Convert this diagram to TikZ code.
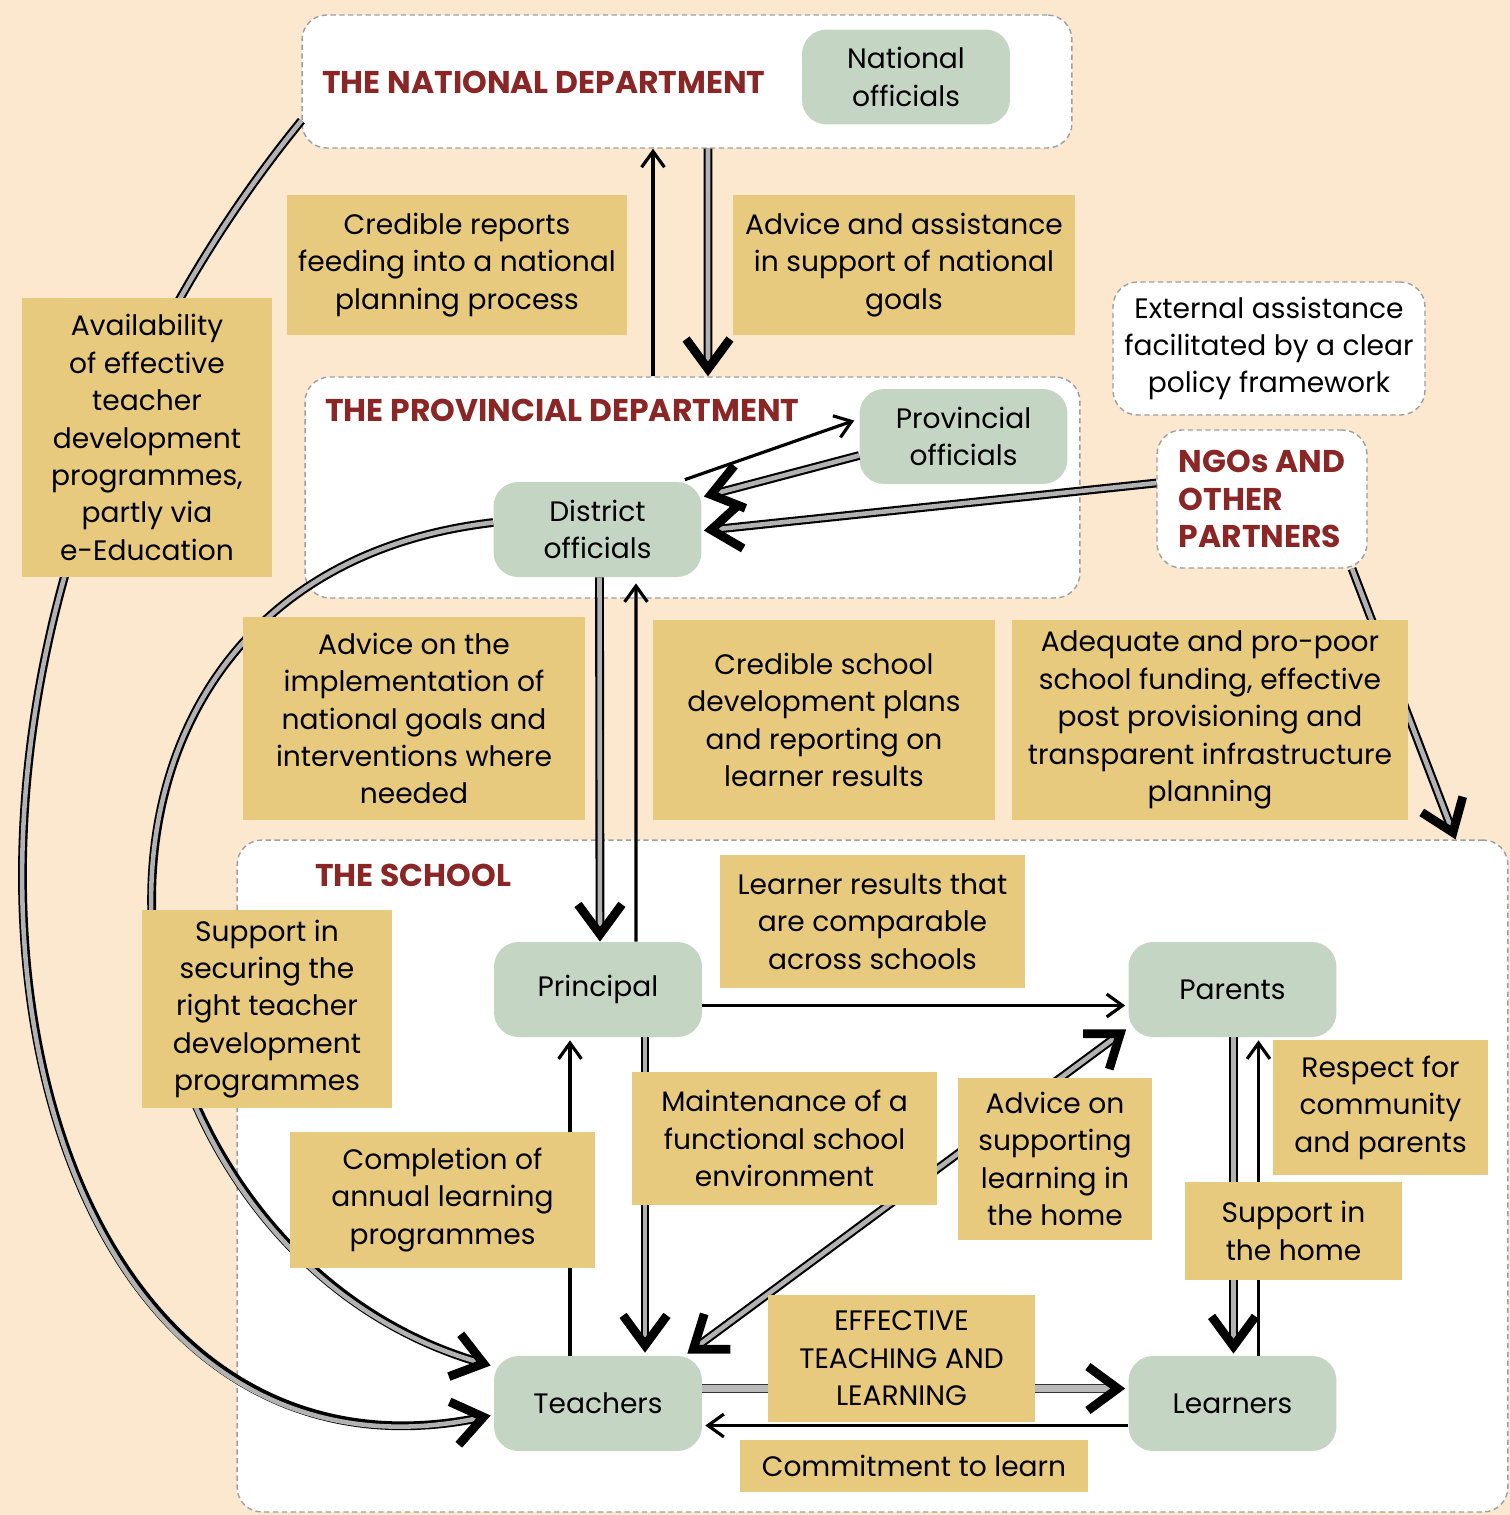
\documentclass[tikz,border=0pt]{standalone}
\usepackage{fontspec}
\setmainfont{Poppins}
\usetikzlibrary{arrows.meta,calc}
\definecolor{bgpeach}{RGB}{252,232,207}
\definecolor{boxyellow}{RGB}{231,202,126}
\definecolor{offgreen}{RGB}{197,213,196}
\definecolor{titlered}{RGB}{138,38,38}
\begin{document}
\begin{tikzpicture}[x=0.02cm, y=-0.02cm,
  every node/.style={font=\fontsize{16}{21.3}\selectfont, align=center, inner sep=0pt},
  panel/.style={draw=gray!75, dash pattern=on 3pt off 2pt, line width=0.8pt, fill=white, rounded corners=14pt},
  officer/.style={fill=offgreen, rounded corners=14pt, minimum width=4.16cm, minimum height=1.9cm},
  yellowbox/.style 2 args={fill=boxyellow, minimum width=#1, minimum height=#2},
  heading/.style={text=titlered, font=\fontsize{17.9}{21.3}\selectfont\bfseries},
  thinarrow/.style={line width=1.8pt, >={Straight Barb[length=9pt, width=13pt, line width=1.8pt]}, ->},
  bigarrow/.style={draw=gray!60, line width=2.6pt, >={Straight Barb[color=black, length=17pt, width=25pt, line width=5pt]}, ->,
    preaction={draw=black, line width=5pt, shorten >=4pt, -}},
  bigboth/.style={draw=gray!60, line width=2.6pt, >={Straight Barb[color=black, length=17pt, width=25pt, line width=5pt]}, <->,
    preaction={draw=black, line width=5pt, shorten >=4pt, shorten <=4pt, -}},
  widearrow/.style={draw=gray!55, line width=4pt, >={Straight Barb[color=black, length=17pt, width=25pt, line width=5pt]}, ->,
    preaction={draw=black!80, line width=5.4pt, shorten >=4pt, -}}]
\path[fill=bgpeach, use as bounding box] (0,0) rectangle (1510,1515);

\path (687,81.5) node[panel, minimum width=15.4cm, minimum height=2.66cm] (nat) {};
\path (692.5,487.5) node[panel, minimum width=15.5cm, minimum height=4.42cm] (prov) {};
\path (872.5,1176) node[panel, minimum width=25.42cm, minimum height=13.44cm] (school) {};
\path (1269,348.5) node[panel, minimum width=6.24cm, minimum height=2.66cm] (ext) {External assistance\\facilitated by a clear\\policy framework};
\path (1262,499) node[panel, heading, align=left, minimum width=4.2cm, minimum height=2.76cm] (ngo) {NGOs AND\\OTHER\\PARTNERS};

\path (906,77) node[officer] (natoff) {National\\officials};
\path (963.5,436.5) node[officer] (provoff) {Provincial\\officials};
\path (597.5,529.5) node[officer] (dis) {District\\officials};
\path (598,989.5) node[officer] (prin) {Principal};
\path (1232.5,989.5) node[officer] (par) {Parents};
\path (598,1403.5) node[officer] (tea) {Teachers};
\path (1232.5,1403.5) node[officer] (lea) {Learners};

\path (322,82) node[heading, anchor=west] (natt) {THE NATIONAL DEPARTMENT};
\path (325,410) node[heading, anchor=west] (provt) {THE PROVINCIAL DEPARTMENT};
\path (315,875) node[heading, anchor=west] (schoolt) {THE SCHOOL};

\draw[thinarrow] ($(prov.north)+(-39.5,0)$) -- ($(nat.south)+(-34,0)$);
\draw[bigarrow] ($(nat.south)+(21,0)$) -- ($(prov.north)+(15.5,0)$);
\draw[thinarrow] ($(dis.north east)+(-17,-2)$) -- ($(provoff.west)+(-5,-16)$);
\draw[bigarrow] ($(provoff.west)+(0,19)$) -- ($(dis.east)+(2,-33)$);
\draw[bigarrow] ($(ngo.west)+(0,-16)$) -- ($(dis.east)+(2,1)$);
\draw[bigarrow] ($(ngo.south)+(90,0)$) -- ($(school.north east)+(-53,0)$);
\draw[bigarrow] ($(dis.south)+(2,0)$) -- ($(prin.north)+(2,0)$);
\draw[thinarrow] ($(prin.north)+(38,0)$) -- ($(dis.south)+(38.5,6)$);
\draw[thinarrow] ($(prin.east)+(0,16)$) -- ($(par.west)+(-3,16)$);
\draw[bigarrow] ($(prin.south)+(47,0)$) -- ($(tea.north)+(47,-3)$);
\draw[thinarrow] ($(tea.north)+(-28,0)$) -- ($(prin.south)+(-28,3)$);
\draw[bigboth] ($(par.south west)+(-2,-8)$) -- ($(tea.north east)+(-15,-2)$);
\draw[bigarrow] ($(par.south)+(1,0)$) -- ($(lea.north)+(1,-2)$);
\draw[thinarrow] ($(lea.north)+(26,0)$) -- ($(par.south)+(26,3)$);
\draw[widearrow] ($(tea.east)+(0,-15)$) -- ($(lea.west)+(-3,-15)$);
\draw[thinarrow] ($(lea.west)+(0,22)$) -- ($(tea.east)+(3,22)$);
\draw[bigarrow] ($(nat.south west)+(0,-28)$) .. controls (-170,700) and (0,1520) .. ($(tea.west)+(-3,12)$);
\draw[bigarrow] ($(dis.west)+(0,-7)$) .. controls (0,580) and (80,1250) .. ($(tea.west)+(-3,-38)$);

\path (457,265) node[yellowbox={6.82cm}{2.8cm}] (reports) {Credible reports\\feeding into a national\\planning process};
\path (904,265) node[yellowbox={6.84cm}{2.8cm}] (assist) {Advice and assistance\\in support of national\\goals};
\path (147,437.5) node[yellowbox={5cm}{5.58cm}] (avail) {Availability\\of effective\\teacher\\development\\programmes,\\partly via\\e-Education};
\path (414,718.5) node[yellowbox={6.84cm}{4.06cm}] (implement) {Advice on the\\implementation of\\national goals and\\interventions where\\needed};
\path (824,720) node[yellowbox={6.84cm}{4cm}] (plans) {Credible school\\development plans\\and reporting on\\learner results};
\path (1210,720) node[yellowbox={7.92cm}{4cm}] (funding) {Adequate and pro-poor\\school funding, effective\\post provisioning and\\transparent infrastructure\\planning};
\path (872.5,921.5) node[yellowbox={6.1cm}{2.66cm}] (results) {Learner results that\\are comparable\\across schools};
\path (267,1009) node[yellowbox={5cm}{3.96cm}] (securing) {Support in\\securing the\\right teacher\\development\\programmes};
\path (442.5,1200) node[yellowbox={6.1cm}{2.72cm}] (annual) {Completion of\\annual learning\\programmes};
\path (784.5,1138.5) node[yellowbox={6.1cm}{2.66cm}] (maint) {Maintenance of a\\functional school\\environment};
\path (1055,1159) node[yellowbox={3.88cm}{3.24cm}] (homeadv) {Advice on\\supporting\\learning in\\the home};
\path (1380.5,1107.5) node[yellowbox={4.3cm}{2.7cm}] (respect) {Respect for\\community\\and parents};
\path (1293.5,1231) node[yellowbox={4.34cm}{1.96cm}] (homesup) {Support in\\the home};
\path (901.5,1358.5) node[yellowbox={5.34cm}{2.54cm}] (effective) {EFFECTIVE\\TEACHING AND\\LEARNING};
\path (914,1466) node[yellowbox={6.96cm}{1.04cm}] (commit) {Commitment to learn};
\end{tikzpicture}
\end{document}
